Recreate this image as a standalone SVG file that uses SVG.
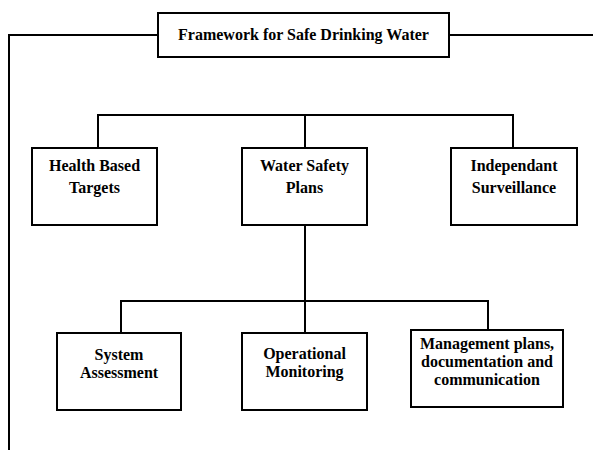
<svg xmlns="http://www.w3.org/2000/svg" width="593" height="450" viewBox="0 0 593 450">
<style>
.b{fill:#fff;stroke:#000;stroke-width:2}
.c{fill:none;stroke:#000;stroke-width:2}
text{font-family:"Liberation Serif","Times New Roman",serif;font-weight:bold;font-size:16px;text-anchor:middle;fill:#000}
</style>
<rect width="593" height="450" fill="#fff"/>
<g id="connectors">
<polyline class="c" points="158,35 9,35 9,450"/>
<line class="c" x1="449" y1="35" x2="593" y2="35"/>
<polyline class="c" points="98,148 98,115 513,115 513,148"/>
<line class="c" x1="305" y1="115" x2="305" y2="148"/>
<line class="c" x1="305" y1="225" x2="305" y2="333"/>
<polyline class="c" points="121,333 121,301 488,301 488,330"/>
</g>
<g id="title"><rect class="b" x="158" y="13" width="291" height="44"/><text x="303.5" y="40">Framework for Safe Drinking Water</text></g>
<g id="health"><rect class="b" x="32" y="148" width="125" height="77"/><text x="94.5" y="171">Health Based</text><text x="94.5" y="193">Targets</text></g>
<g id="wsp"><rect class="b" x="242" y="148" width="125" height="77"/><text x="304.5" y="171">Water Safety</text><text x="304.5" y="193">Plans</text></g>
<g id="surv"><rect class="b" x="451" y="148" width="126" height="77"/><text x="514" y="171">Independant</text><text x="514" y="193">Surveillance</text></g>
<g id="sys"><rect class="b" x="57" y="333" width="124" height="77"/><text x="119" y="360">System</text><text x="119" y="378">Assessment</text></g>
<g id="op"><rect class="b" x="242" y="333" width="125" height="77"/><text x="304.5" y="359">Operational</text><text x="304.5" y="377">Monitoring</text></g>
<g id="mgmt"><rect class="b" x="411" y="330" width="152" height="77"/><text x="487" y="349">Management plans,</text><text x="487" y="367">documentation and</text><text x="487" y="385">communication</text></g>
</svg>
